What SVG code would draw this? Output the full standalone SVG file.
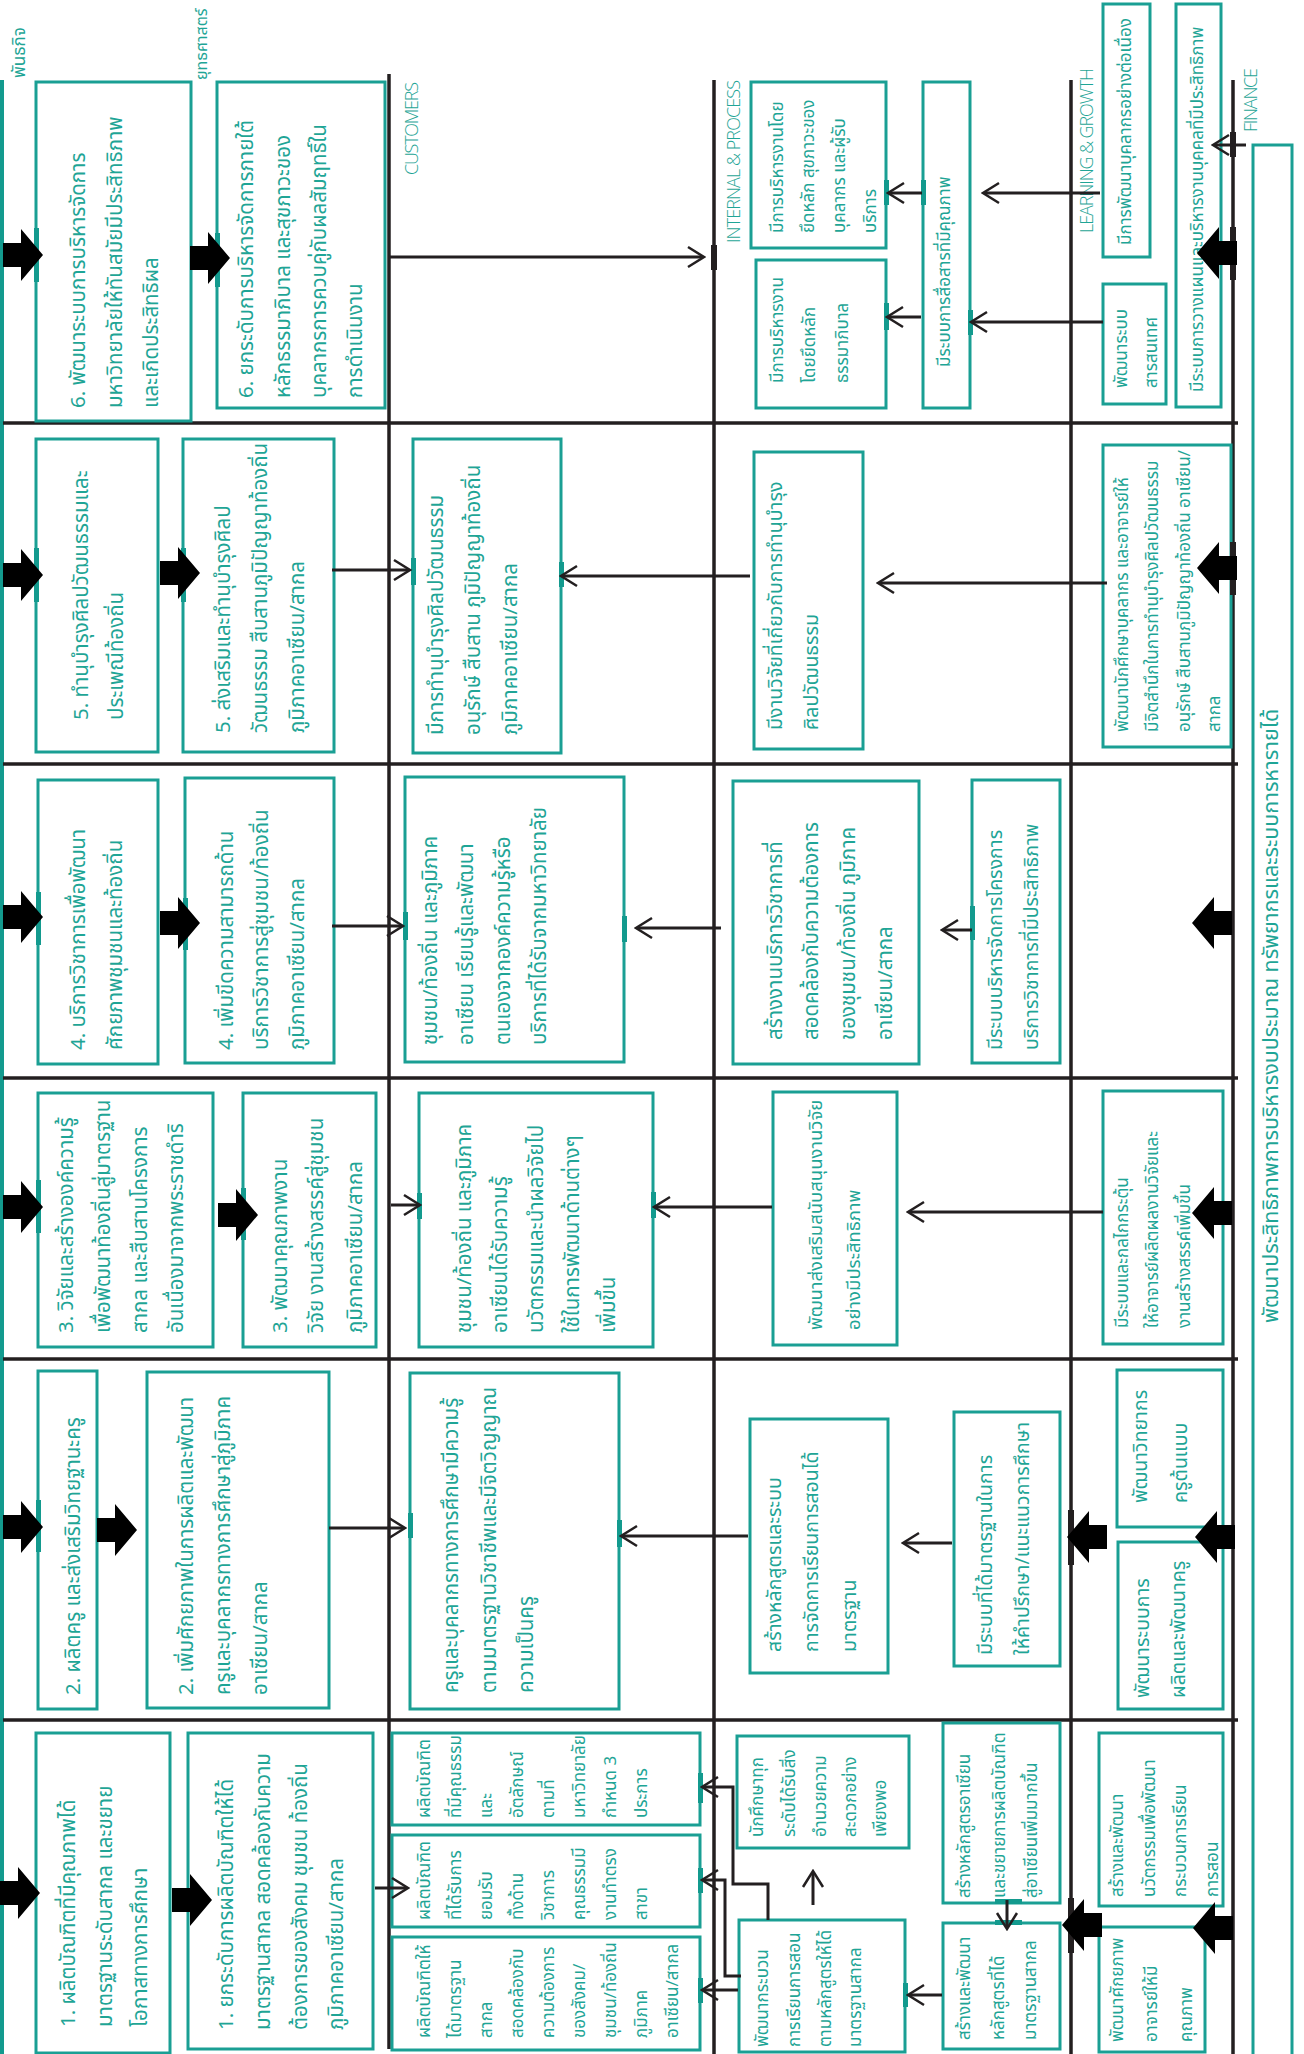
<svg xmlns="http://www.w3.org/2000/svg" width="1304" height="2054" viewBox="0 0 1304 2054">
<defs>
<style>
.bx{fill:#fff;stroke:#1a9f94;stroke-width:3}
.tx{fill:#1fa596;font-family:"Noto Sans Thai","Noto Sans","Open Sans",sans-serif}
.f18{font-size:20.5px}.f17{font-size:19.5px}.f16{font-size:18.5px}.f15{font-size:17px}.f14{font-size:16px}
.lb{fill:#1fa596;font-family:"Open Sans","Liberation Sans",sans-serif;font-weight:300;font-size:18px}
.ln{stroke:#231f20;stroke-width:3.5;fill:none}
.cn{stroke:#231f20;stroke-width:3;fill:none;marker-end:url(#ah)}
.tk{fill:#139a8e}
.bk{fill:#231f20}
.ba{fill:#000}
</style>
<marker id="ah" markerUnits="userSpaceOnUse" markerWidth="20" markerHeight="24" viewBox="0 0 20 24" refX="17" refY="12" orient="auto"><path d="M2,2 L18,12 L2,22" fill="none" stroke="#231f20" stroke-width="2.5"/></marker>
<path id="blk" d="M0,0 L-22,-26 L-22,-12 L-40,-12 L-40,12 L-22,12 L-22,26 Z"/>
</defs>
<rect width="1304" height="2054" fill="#fff"/>

<g id="lanes">
<line x1="2" y1="80" x2="2" y2="2054" stroke="#139a8e" stroke-width="4"/>
<line class="ln" x1="389" y1="74" x2="389" y2="2049"/>
<line class="ln" x1="714" y1="80" x2="714" y2="2054"/>
<line class="ln" x1="1071" y1="80" x2="1071" y2="2054"/>
<line class="ln" x1="1233" y1="80" x2="1233" y2="2054"/>
<line class="ln" x1="3" y1="423" x2="1238" y2="423"/>
<line class="ln" x1="3" y1="764" x2="1238" y2="764"/>
<line class="ln" x1="3" y1="1078" x2="1238" y2="1078"/>
<line class="ln" x1="3" y1="1359" x2="1238" y2="1359"/>
<line class="ln" x1="3" y1="1720" x2="1238" y2="1720"/>
</g>

<g id="labels">
<text class="tx f15" transform="rotate(-90)" x="-78" y="25">พันธกิจ</text>
<text class="tx f14" transform="rotate(-90)" x="-80" y="207">ยุทธศาสตร์</text>
<text class="lb" transform="rotate(-90)" x="-175" y="418" textLength="93">CUSTOMERS</text>
<text class="lb" transform="rotate(-90)" x="-243" y="740" textLength="163">INTERNAL &amp; PROCESS</text>
<text class="lb" transform="rotate(-90)" x="-233" y="1093" textLength="165">LEARNING &amp; GROWTH</text>
<text class="lb" transform="rotate(-90)" x="-132" y="1257" textLength="64">FINANCE</text>
</g>

<!-- Row 6 -->
<g id="M6"><rect class="bx" x="36" y="82" width="155" height="339"/>
<text class="tx f18" transform="rotate(-90)"><tspan x="-408" y="85">6. พัฒนาระบบการบริหารจัดการ</tspan><tspan x="-408" y="122">มหาวิทยาลัยให้ทันสมัยมีประสิทธิภาพ</tspan><tspan x="-408" y="158">และเกิดประสิทธิผล</tspan></text></g>
<g id="S6"><rect class="bx" x="217" y="82" width="168" height="326"/>
<text class="tx f18" transform="rotate(-90)"><tspan x="-398" y="253">6. ยกระดับการบริหารจัดการภายใต้</tspan><tspan x="-398" y="290">หลักธรรมาภิบาล และสุขภาวะของ</tspan><tspan x="-398" y="326">บุคลากรการควบคู่กับผลสัมฤทธิ์ใน</tspan><tspan x="-398" y="362">การดำเนินงาน</tspan></text></g>
<g id="I6a"><rect class="bx" x="751" y="82" width="135" height="166"/>
<text class="tx f15" transform="rotate(-90)"><tspan x="-233" y="783">มีการบริหารงานโดย</tspan><tspan x="-233" y="814">ยึดหลัก สุขภาวะของ</tspan><tspan x="-233" y="845">บุคลากร และผู้รับ</tspan><tspan x="-233" y="876">บริการ</tspan></text></g>
<g id="I6b"><rect class="bx" x="756" y="260" width="130" height="148"/>
<text class="tx f15" transform="rotate(-90)"><tspan x="-383" y="783">มีการบริหารงาน</tspan><tspan x="-383" y="815">โดยยึดหลัก</tspan><tspan x="-383" y="848">ธรรมาภิบาล</tspan></text></g>
<g id="I6c"><rect class="bx" x="923" y="82" width="47" height="326"/>
<text class="tx f15" transform="rotate(-90)" x="-367" y="950">มีระบบการสื่อสารที่มีคุณภาพ</text></g>
<g id="L6a"><rect class="bx" x="1103" y="4" width="47" height="253"/>
<text class="tx f15" transform="rotate(-90)" x="-245" y="1131">มีการพัฒนาบุคลากรอย่างต่อเนื่อง</text></g>
<g id="L6b"><rect class="bx" x="1103" y="284" width="63" height="120"/>
<text class="tx f15" transform="rotate(-90)"><tspan x="-388" y="1127">พัฒนาระบบ</tspan><tspan x="-388" y="1157">สารสนเทศ</tspan></text></g>
<g id="F6"><rect class="bx" x="1176" y="4" width="45" height="403"/>
<text class="tx f15" transform="rotate(-90)" x="-392" y="1203">มีระบบการวางแผนและบริหารงานบุคคลที่มีประสิทธิภาพ</text></g>

<!-- Row 5 -->
<g id="M5"><rect class="bx" x="36" y="439" width="122" height="313"/>
<text class="tx f18" transform="rotate(-90)"><tspan x="-720" y="88">5. ทำนุบำรุงศิลปวัฒนธรรมและ</tspan><tspan x="-720" y="123">ประเพณีท้องถิ่น</tspan></text></g>
<g id="S5"><rect class="bx" x="183" y="439" width="151" height="313"/>
<text class="tx f18" transform="rotate(-90)"><tspan x="-733" y="230">5. ส่งเสริมและทำนุบำรุงศิลป</tspan><tspan x="-733" y="267">วัฒนธรรม สืบสานภูมิปัญญาท้องถิ่น</tspan><tspan x="-733" y="304">ภูมิภาคอาเซียน/สากล</tspan></text></g>
<g id="C5"><rect class="bx" x="413" y="439" width="148" height="314"/>
<text class="tx f18" transform="rotate(-90)"><tspan x="-735" y="443">มีการทำนุบำรุงศิลปวัฒนธรรม</tspan><tspan x="-735" y="480">อนุรักษ์ สืบสาน ภูมิปัญญาท้องถิ่น</tspan><tspan x="-735" y="517">ภูมิภาคอาเซียน/สากล</tspan></text></g>
<g id="I5"><rect class="bx" x="754" y="452" width="109" height="297"/>
<text class="tx f17" transform="rotate(-90)"><tspan x="-730" y="782">มีงานวิจัยที่เกี่ยวกับการทำนุบำรุง</tspan><tspan x="-730" y="818">ศิลปวัฒนธรรม</tspan></text></g>
<g id="L5"><rect class="bx" x="1103" y="445" width="128" height="302"/>
<text class="tx f15" transform="rotate(-90)"><tspan x="-732" y="1128">พัฒนานักศึกษาบุคลากร และอาจารย์ให้</tspan><tspan x="-732" y="1158">มีจิตสำนึกในการทำนุบำรุงศิลปวัฒนธรรม</tspan><tspan x="-732" y="1190">อนุรักษ์ สืบสานภูมิปัญญาท้องถิ่น อาเซียน/</tspan><tspan x="-732" y="1220">สากล</tspan></text></g>

<!-- Row 4 -->
<g id="M4"><rect class="bx" x="38" y="780" width="120" height="284"/>
<text class="tx f18" transform="rotate(-90)"><tspan x="-1050" y="85">4. บริการวิชาการเพื่อพัฒนา</tspan><tspan x="-1050" y="122">ศักยภาพชุมชนและท้องถิ่น</tspan></text></g>
<g id="S4"><rect class="bx" x="185" y="778" width="149" height="285"/>
<text class="tx f18" transform="rotate(-90)"><tspan x="-1050" y="233">4. เพิ่มขีดความสามารถด้าน</tspan><tspan x="-1050" y="268">บริการวิชาการสู่ชุมชน/ท้องถิ่น</tspan><tspan x="-1050" y="304">ภูมิภาคอาเซียน/สากล</tspan></text></g>
<g id="C4"><rect class="bx" x="405" y="777" width="219" height="285"/>
<text class="tx f18" transform="rotate(-90)"><tspan x="-1045" y="437">ชุมชน/ท้องถิ่น และภูมิภาค</tspan><tspan x="-1045" y="473">อาเซียน เรียนรู้และพัฒนา</tspan><tspan x="-1045" y="510">ตนเองจากองค์ความรู้หรือ</tspan><tspan x="-1045" y="546">บริการที่ได้รับจากมหาวิทยาลัย</tspan></text></g>
<g id="I4"><rect class="bx" x="733" y="781" width="186" height="283"/>
<text class="tx f18" transform="rotate(-90)"><tspan x="-1040" y="782">สร้างงานบริการวิชาการที่</tspan><tspan x="-1040" y="818">สอดคล้องกับความต้องการ</tspan><tspan x="-1040" y="855">ของชุมชน/ท้องถิ่น ภูมิภาค</tspan><tspan x="-1040" y="892">อาเซียน/สากล</tspan></text></g>
<g id="I4b"><rect class="bx" x="972" y="780" width="88" height="283"/>
<text class="tx f17" transform="rotate(-90)"><tspan x="-1050" y="1002">มีระบบบริหารจัดการโครงการ</tspan><tspan x="-1050" y="1038">บริการวิชาการที่มีประสิทธิภาพ</tspan></text></g>

<!-- Row 3 -->
<g id="M3"><rect class="bx" x="38" y="1093" width="175" height="254"/>
<text class="tx f18" transform="rotate(-90)"><tspan x="-1333" y="73">3. วิจัยและสร้างองค์ความรู้</tspan><tspan x="-1333" y="110">เพื่อพัฒนาท้องถิ่นสู่มาตรฐาน</tspan><tspan x="-1333" y="147">สากล และสืบสานโครงการ</tspan><tspan x="-1333" y="183">อันเนื่องมาจากพระราชดำริ</tspan></text></g>
<g id="S3"><rect class="bx" x="243" y="1093" width="133" height="254"/>
<text class="tx f18" transform="rotate(-90)"><tspan x="-1333" y="287">3. พัฒนาคุณภาพงาน</tspan><tspan x="-1333" y="323">วิจัย งานสร้างสรรค์สู่ชุมชน</tspan><tspan x="-1333" y="362">ภูมิภาคอาเซียน/สากล</tspan></text></g>
<g id="C3"><rect class="bx" x="419" y="1093" width="234" height="254"/>
<text class="tx f18" transform="rotate(-90)"><tspan x="-1333" y="471">ชุมชน/ท้องถิ่น และภูมิภาค</tspan><tspan x="-1333" y="507">อาเซียนได้รับความรู้</tspan><tspan x="-1333" y="543">นวัตกรรมและนำผลวิจัยไป</tspan><tspan x="-1333" y="579">ใช้ในการพัฒนาด้านต่างๆ</tspan><tspan x="-1333" y="615">เพิ่มขึ้น</tspan></text></g>
<g id="I3"><rect class="bx" x="773" y="1092" width="124" height="253"/>
<text class="tx f16" transform="rotate(-90)"><tspan x="-1330" y="822">พัฒนาส่งเสริมสนับสนุนงานวิจัย</tspan><tspan x="-1330" y="860">อย่างมีประสิทธิภาพ</tspan></text></g>
<g id="L3"><rect class="bx" x="1103" y="1091" width="120" height="253"/>
<text class="tx f15" transform="rotate(-90)"><tspan x="-1328" y="1128">มีระบบและกลไกกระตุ้น</tspan><tspan x="-1328" y="1158">ให้อาจารย์ผลิตผลงานวิจัยและ</tspan><tspan x="-1328" y="1190">งานสร้างสรรค์เพิ่มขึ้น</tspan></text></g>

<!-- Row 2 -->
<g id="M2"><rect class="bx" x="38" y="1371" width="59" height="338"/>
<text class="tx f18" transform="rotate(-90)" x="-1695" y="80">2. ผลิตครู และส่งเสริมวิทยฐานะครู</text></g>
<g id="S2"><rect class="bx" x="147" y="1372" width="182" height="336"/>
<text class="tx f18" transform="rotate(-90)"><tspan x="-1695" y="193">2. เพิ่มศักยภาพในการผลิตและพัฒนา</tspan><tspan x="-1695" y="230">ครูและบุคลากรทางการศึกษาสู่ภูมิภาค</tspan><tspan x="-1695" y="267">อาเซียน/สากล</tspan></text></g>
<g id="C2"><rect class="bx" x="410" y="1373" width="209" height="336"/>
<text class="tx f18" transform="rotate(-90)"><tspan x="-1693" y="458">ครูและบุคลากรทางการศึกษามีความรู้</tspan><tspan x="-1693" y="496">ตามมาตรฐานวิชาชีพและมีจิตวิญญาณ</tspan><tspan x="-1693" y="533">ความเป็นครู</tspan></text></g>
<g id="I2a"><rect class="bx" x="750" y="1419" width="138" height="254"/>
<text class="tx f17" transform="rotate(-90)"><tspan x="-1652" y="781">สร้างหลักสูตรและระบบ</tspan><tspan x="-1652" y="818">การจัดการเรียนการสอนได้</tspan><tspan x="-1652" y="856">มาตรฐาน</tspan></text></g>
<g id="I2b"><rect class="bx" x="954" y="1412" width="106" height="254"/>
<text class="tx f17" transform="rotate(-90)"><tspan x="-1655" y="992">มีระบบที่ได้มาตรฐานในการ</tspan><tspan x="-1655" y="1029">ให้คำปรึกษา/แนะแนวการศึกษา</tspan></text></g>
<g id="L2a"><rect class="bx" x="1117" y="1370" width="106" height="157"/>
<text class="tx f17" transform="rotate(-90)"><tspan x="-1503" y="1147">พัฒนาวิทยากร</tspan><tspan x="-1503" y="1187">ครูต้นแบบ</tspan></text></g>
<g id="L2b"><rect class="bx" x="1118" y="1542" width="105" height="167"/>
<text class="tx f17" transform="rotate(-90)"><tspan x="-1698" y="1149">พัฒนาระบบการ</tspan><tspan x="-1698" y="1185">ผลิตและพัฒนาครู</tspan></text></g>

<!-- Row 1 -->
<g id="M1"><rect class="bx" x="36" y="1733" width="134" height="320"/>
<text class="tx f18" transform="rotate(-90)"><tspan x="-2027" y="75">1. ผลิตบัณฑิตที่มีคุณภาพได้</tspan><tspan x="-2027" y="112">มาตรฐานระดับสากล และขยาย</tspan><tspan x="-2027" y="147">โอกาสทางการศึกษา</tspan></text></g>
<g id="S1"><rect class="bx" x="188" y="1733" width="185" height="316"/>
<text class="tx f18" transform="rotate(-90)"><tspan x="-2030" y="233">1. ยกระดับการผลิตบัณฑิตให้ได้</tspan><tspan x="-2030" y="270">มาตรฐานสากล สอดคล้องกับความ</tspan><tspan x="-2030" y="307">ต้องการของสังคม ชุมชน ท้องถิ่น</tspan><tspan x="-2030" y="343">ภูมิภาคอาเซียน/สากล</tspan></text></g>
<g id="C1a"><rect class="bx" x="392" y="1733" width="308" height="92"/>
<text class="tx f15" transform="rotate(-90)"><tspan x="-1818" y="430">ผลิตบัณฑิต</tspan><tspan x="-1818" y="461">ที่มีคุณธรรม</tspan><tspan x="-1818" y="492">และ</tspan><tspan x="-1818" y="523">อัตลักษณ์</tspan><tspan x="-1818" y="554">ตามที่</tspan><tspan x="-1818" y="585">มหาวิทยาลัย</tspan><tspan x="-1818" y="616">กำหนด 3</tspan><tspan x="-1818" y="647">ประการ</tspan></text></g>
<g id="C1b"><rect class="bx" x="392" y="1835" width="308" height="92"/>
<text class="tx f15" transform="rotate(-90)"><tspan x="-1920" y="430">ผลิตบัณฑิต</tspan><tspan x="-1920" y="461">ที่ได้รับการ</tspan><tspan x="-1920" y="492">ยอมรับ</tspan><tspan x="-1920" y="523">ทั้งด้าน</tspan><tspan x="-1920" y="554">วิชาการ</tspan><tspan x="-1920" y="585">คุณธรรมมี</tspan><tspan x="-1920" y="616">งานทำตรง</tspan><tspan x="-1920" y="647">สาขา</tspan></text></g>
<g id="C1c"><rect class="bx" x="392" y="1937" width="308" height="113"/>
<text class="tx f15" transform="rotate(-90)"><tspan x="-2038" y="430">ผลิตบัณฑิตให้</tspan><tspan x="-2038" y="461">ได้มาตรฐาน</tspan><tspan x="-2038" y="492">สากล</tspan><tspan x="-2038" y="523">สอดคล้องกับ</tspan><tspan x="-2038" y="554">ความต้องการ</tspan><tspan x="-2038" y="585">ของสังคม/</tspan><tspan x="-2038" y="616">ชุมชน/ท้องถิ่น</tspan><tspan x="-2038" y="647">ภูมิภาค</tspan><tspan x="-2038" y="678">อาเซียน/สากล</tspan></text></g>
<g id="I1a"><rect class="bx" x="737" y="1736" width="172" height="112"/>
<text class="tx f15" transform="rotate(-90)"><tspan x="-1837" y="763">นักศึกษาทุก</tspan><tspan x="-1837" y="795">ระดับได้รับสิ่ง</tspan><tspan x="-1837" y="826">อำนวยความ</tspan><tspan x="-1837" y="856">สะดวกอย่าง</tspan><tspan x="-1837" y="886">เพียงพอ</tspan></text></g>
<g id="I1b"><rect class="bx" x="739" y="1920" width="166" height="132"/>
<text class="tx f15" transform="rotate(-90)"><tspan x="-2047" y="768">พัฒนากระบวน</tspan><tspan x="-2047" y="800">การเรียนการสอน</tspan><tspan x="-2047" y="831">ตามหลักสูตรให้ได้</tspan><tspan x="-2047" y="861">มาตรฐานสากล</tspan></text></g>
<g id="I1c"><rect class="bx" x="943" y="1723" width="117" height="180"/>
<text class="tx f15" transform="rotate(-90)"><tspan x="-1898" y="970">สร้างหลักสูตรอาเซียน</tspan><tspan x="-1898" y="1005">และขยายการผลิตบัณฑิต</tspan><tspan x="-1898" y="1037">สู่อาเซียนเพิ่มมากขึ้น</tspan></text></g>
<g id="I1d"><rect class="bx" x="943" y="1923" width="117" height="126"/>
<text class="tx f15" transform="rotate(-90)"><tspan x="-2040" y="970">สร้างและพัฒนา</tspan><tspan x="-2040" y="1004">หลักสูตรที่ได้</tspan><tspan x="-2040" y="1036">มาตรฐานสากล</tspan></text></g>
<g id="L1a"><rect class="bx" x="1099" y="1733" width="124" height="173"/>
<text class="tx f15" transform="rotate(-90)"><tspan x="-1897" y="1123">สร้างและพัฒนา</tspan><tspan x="-1897" y="1155">นวัตกรรมเพื่อพัฒนา</tspan><tspan x="-1897" y="1186">กระบวนการเรียน</tspan><tspan x="-1897" y="1218">การสอน</tspan></text></g>
<g id="L1b"><rect class="bx" x="1099" y="1927" width="106" height="125"/>
<text class="tx f15" transform="rotate(-90)"><tspan x="-2042" y="1123">พัฒนาศักยภาพ</tspan><tspan x="-2042" y="1157">อาจารย์ให้มี</tspan><tspan x="-2042" y="1192">คุณภาพ</tspan></text></g>

<g id="FIN"><rect class="bx" x="1253" y="145" width="39" height="1912"/>
<text class="tx" font-size="21.5" transform="rotate(-90)" x="-1323" y="1278">พัฒนาประสิทธิภาพการบริหารงบประมาณ ทรัพยากรและระบบการหารายได้</text></g>

<g id="ticks">
<rect class="tk" x="34" y="228" width="5" height="54"/><rect class="tk" x="215" y="233" width="5" height="54"/>
<rect class="tk" x="34" y="548" width="5" height="54"/><rect class="tk" x="181" y="548" width="5" height="54"/>
<rect class="tk" x="36" y="892" width="5" height="53"/><rect class="tk" x="183" y="898" width="5" height="52"/>
<rect class="tk" x="36" y="1180" width="5" height="53"/><rect class="tk" x="241" y="1188" width="5" height="52"/>
<rect class="tk" x="36" y="1500" width="5" height="52"/>
<rect class="tk" x="411" y="558" width="5" height="27"/><rect class="tk" x="403" y="912" width="5" height="28"/>
<rect class="tk" x="417" y="1193" width="5" height="26"/><rect class="tk" x="408" y="1513" width="5" height="25"/>
<rect class="tk" x="559" y="562" width="5" height="25"/><rect class="tk" x="622" y="916" width="5" height="26"/>
<rect class="tk" x="651" y="1192" width="5" height="26"/><rect class="tk" x="617" y="1520" width="5" height="27"/>
<rect class="tk" x="884" y="180" width="5" height="25"/><rect class="tk" x="921" y="180" width="5" height="25"/>
<rect class="tk" x="884" y="303" width="5" height="27"/><rect class="tk" x="968" y="310" width="5" height="25"/>
<rect class="tk" x="970" y="906" width="5" height="34"/>
<rect class="tk" x="698" y="1773" width="5" height="30"/><rect class="tk" x="698" y="1868" width="5" height="25"/><rect class="tk" x="698" y="1978" width="5" height="25"/>
<rect class="tk" x="995" y="1899" width="27" height="5"/><rect class="tk" x="995" y="1920" width="27" height="5"/>
<rect class="tk" x="903" y="1983" width="5" height="24"/>
<rect class="bk" x="711" y="245" width="6" height="25"/>
<rect class="bk" x="1230" y="132" width="6" height="25"/>
<rect class="bk" x="1230" y="227" width="6" height="53"/>
<rect class="bk" x="1230" y="542" width="6" height="53"/>
<rect class="bk" x="1068" y="1510" width="6" height="55"/>
<rect class="bk" x="1068" y="1898" width="6" height="55"/>
</g>

<g id="connectors">
<line class="cn" x1="390" y1="257" x2="703" y2="257"/>
<line class="cn" x1="922" y1="193" x2="889" y2="193"/>
<line class="cn" x1="921" y1="317" x2="888" y2="317"/>
<line class="cn" x1="1100" y1="193" x2="984" y2="193"/>
<line class="cn" x1="1103" y1="322" x2="972" y2="322"/>
<line class="cn" x1="1246" y1="145" x2="1214" y2="145"/>
<line class="cn" x1="332" y1="570" x2="409" y2="570"/>
<line class="cn" x1="750" y1="576" x2="562" y2="576"/>
<line class="cn" x1="1107" y1="583" x2="879" y2="583"/>
<line class="cn" x1="332" y1="926" x2="402" y2="926"/>
<line class="cn" x1="721" y1="928" x2="637" y2="928"/>
<line class="cn" x1="972" y1="930" x2="943" y2="930"/>
<line class="cn" x1="391" y1="1205" x2="419" y2="1205"/>
<line class="cn" x1="772" y1="1207" x2="655" y2="1207"/>
<line class="cn" x1="1103" y1="1212" x2="909" y2="1212"/>
<line class="cn" x1="329" y1="1528" x2="404" y2="1528"/>
<line class="cn" x1="748" y1="1536" x2="622" y2="1536"/>
<line class="cn" x1="952" y1="1543" x2="904" y2="1543"/>
<line class="cn" x1="375" y1="1888" x2="407" y2="1888"/>
<polyline class="cn" points="768,1920 768,1884 733,1884 733,1787 703,1787"/>
<polyline class="cn" points="741,1976 725,1976 725,1880 703,1880"/>
<line class="cn" x1="738" y1="1990" x2="703" y2="1990"/>
<line class="cn" x1="813" y1="1905" x2="813" y2="1872"/>
<line class="cn" x1="942" y1="1995" x2="909" y2="1995"/>
<line class="cn" x1="1007" y1="1900" x2="1007" y2="1928"/>
</g>

<g id="block-arrows" class="ba">
<use href="#blk" transform="translate(43,255)"/>
<use href="#blk" transform="translate(230,258)"/>
<use href="#blk" transform="translate(43,575)"/>
<use href="#blk" transform="translate(200,573)"/>
<use href="#blk" transform="translate(43,917)"/>
<use href="#blk" transform="translate(200,923)"/>
<use href="#blk" transform="translate(43,1207)"/>
<use href="#blk" transform="translate(258,1215)"/>
<use href="#blk" transform="translate(43,1527)"/>
<use href="#blk" transform="translate(137,1530)"/>
<use href="#blk" transform="translate(40,1893)"/>
<use href="#blk" transform="translate(212,1900)"/>
<use href="#blk" transform="translate(1197,253) scale(-1,1)"/>
<use href="#blk" transform="translate(1197,568) scale(-1,1)"/>
<use href="#blk" transform="translate(1192,923) scale(-1,1)"/>
<use href="#blk" transform="translate(1192,1213) scale(-1,1)"/>
<use href="#blk" transform="translate(1195,1537) scale(-1,1)"/>
<use href="#blk" transform="translate(1067,1537) scale(-1,1)"/>
<use href="#blk" transform="translate(1193,1928) scale(-1,1)"/>
<use href="#blk" transform="translate(1062,1925) scale(-1,1)"/>
</g>
</svg>
